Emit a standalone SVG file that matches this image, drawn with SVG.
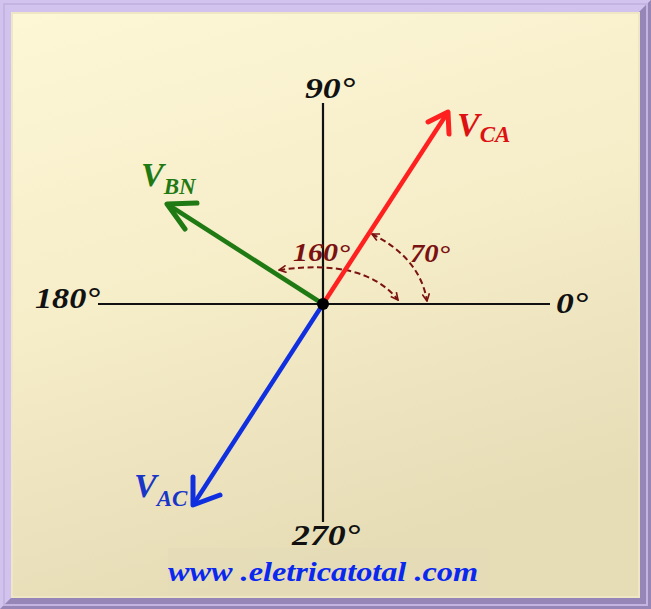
<svg xmlns="http://www.w3.org/2000/svg" width="651" height="609" viewBox="0 0 651 609">
<defs>
<linearGradient id="bg" x1="0" y1="0" x2="0.3" y2="1">
<stop offset="0" stop-color="#fdf7d6"/>
<stop offset="0.5" stop-color="#f6edc9"/>
<stop offset="1" stop-color="#e6ddb7"/>
</linearGradient>
<marker id="ah" viewBox="0 0 10 10" refX="9" refY="5" markerWidth="9" markerHeight="9" orient="auto-start-reverse" markerUnits="userSpaceOnUse">
<path d="M1,1 L9,5 L1,9" fill="none" stroke="#7a1212" stroke-width="1.8"/>
</marker>
<style>
.ax{stroke:#111;stroke-width:2.2;fill:none}
.lbl{font-family:"Liberation Serif",serif;font-weight:bold;font-style:italic;font-size:30px;fill:#111}
.ang{font-family:"Liberation Serif",serif;font-weight:bold;font-style:italic;font-size:25px;fill:#7a1212}
.arc{stroke:#7a1212;stroke-width:2;fill:none;stroke-dasharray:6 3.5}
.ph{font-family:"Liberation Serif",serif;font-weight:bold;font-style:italic}
</style>
</defs>
<g id="frame">
<rect x="0" y="0" width="651" height="609" fill="#b3a3d3"/>
<polygon points="0,0 651,0 639,12 12,12 12,597 0,609" fill="#d2c2ee"/>
<polygon points="651,0 651,609 0,609 12,597 639,597 639,12" fill="#9686b8"/>
<rect x="4" y="4" width="643" height="601" fill="none" stroke="#c4b4e2" stroke-width="2"/>
<rect x="12" y="13" width="627" height="584" fill="url(#bg)"/>
<rect x="12" y="13" width="627" height="584" fill="none" stroke="#efe6c6" stroke-width="2"/>
<rect x="168" y="548" width="322" height="46" fill="#e4dbb7" opacity="0.6"/>
</g>
<g id="axes">
<line class="ax" x1="98" y1="304" x2="550" y2="304"/>
<line class="ax" x1="323" y1="103" x2="323" y2="522"/>
<text class="lbl" x="305" y="98" textLength="50" lengthAdjust="spacingAndGlyphs">90°</text>
<text class="lbl" x="35" y="308" textLength="65" lengthAdjust="spacingAndGlyphs">180°</text>
<text class="lbl" x="556" y="313" textLength="32" lengthAdjust="spacingAndGlyphs">0°</text>
<text class="lbl" x="292" y="545" textLength="68" lengthAdjust="spacingAndGlyphs">270°</text>
</g>
<g id="connectors">
<path class="arc" d="M279,270 Q365,258 398,300" marker-start="url(#ah)" marker-end="url(#ah)"/>
<path class="arc" d="M372,234 Q420,258 427,301" marker-start="url(#ah)" marker-end="url(#ah)"/>
</g>
<g id="VCA">
<line x1="323" y1="304" x2="448" y2="112" stroke="#ff2020" stroke-width="4.5"/>
<polyline points="428,122 448,112 449,134" fill="none" stroke="#ff2020" stroke-width="5" stroke-linecap="round" stroke-linejoin="round"/>
<text class="ph" x="457" y="136" font-size="34" fill="#dd1111">V<tspan font-size="23" dy="6">CA</tspan></text>
</g>
<g id="VBN">
<line x1="323" y1="304" x2="167" y2="204" stroke="#1f7a14" stroke-width="4.5"/>
<polyline points="185,229 167,204 197,203" fill="none" stroke="#1f7a14" stroke-width="5" stroke-linecap="round" stroke-linejoin="round"/>
<text class="ph" x="141" y="186" font-size="34" fill="#1f7a14">V<tspan font-size="23" dy="8">BN</tspan></text>
</g>
<g id="VAC">
<line x1="323" y1="304" x2="193" y2="505" stroke="#1030e0" stroke-width="4.5"/>
<polyline points="193,477 193,505 220,495" fill="none" stroke="#1030e0" stroke-width="5" stroke-linecap="round" stroke-linejoin="round"/>
<text class="ph" x="134" y="497" font-size="34" fill="#1a36c8">V<tspan font-size="23" dy="9">AC</tspan></text>
</g>
<g id="origin"><circle cx="323" cy="304" r="6" fill="#000"/></g>
<g id="angles">
<text class="ang" x="293" y="261" textLength="57" lengthAdjust="spacingAndGlyphs">160°</text>
<text class="ang" x="410" y="262" textLength="40" lengthAdjust="spacingAndGlyphs">70°</text>
</g>
<text x="168" y="581" font-family="Liberation Serif, serif" font-weight="bold" font-style="italic" font-size="28" fill="#0a28f0" textLength="310" lengthAdjust="spacingAndGlyphs">www .eletricatotal .com</text>
</svg>
